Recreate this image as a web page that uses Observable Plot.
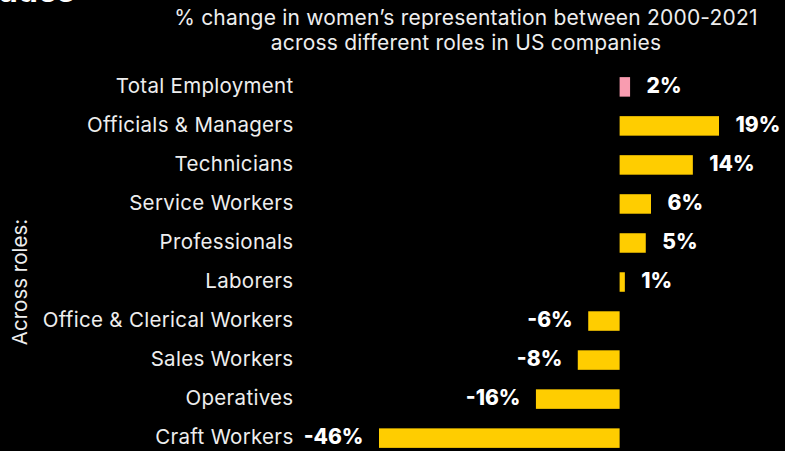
<!DOCTYPE html>
<html>
<head>
<meta charset="utf-8">
<script src="https://cdn.jsdelivr.net/npm/d3@7"></script>
<script src="https://cdn.jsdelivr.net/npm/@observablehq/plot@0.6"></script>
<style>
  html, body { margin: 0; padding: 0; background: #000; }
  body { width: 785px; height: 451px; overflow: hidden; position: relative; font-family: Inter, "Noto Sans", sans-serif; }
  #title { position: absolute; z-index: 2; right: 710px; top: -25px; font-size: 32px; line-height: 32px; font-weight: 700; color: #fff; white-space: nowrap; }
  #subtitle { position: absolute; z-index: 2; left: 166px; width: 600px; top: 5px; text-align: center; font-size: 21px; line-height: 25px; color: #eee; letter-spacing: 0.2px; }
  #chart { position: absolute; z-index: 1; left: 0; top: 0; }
</style>
</head>
<body>
<div id="title">over two decades</div>
<div id="subtitle">% change in women’s representation between 2000-2021<br>across different roles in US companies</div>
<div id="chart"></div>
<script>
const roles = ["Total Employment", "Officials & Managers", "Technicians", "Service Workers", "Professionals", "Laborers", "Office & Clerical Workers", "Sales Workers", "Operatives", "Craft Workers"];
const changes = [2, 19, 14, 6, 5, 1, -6, -8, -16, -46];
const highlight = ["Total Employment"];

const data = roles.map((r, i) => ({role: r, value: changes[i], total: highlight.includes(r)}));
const fmt = d => `${d.value}%`;

const chart = Plot.plot({
  width: 785,
  height: 451,
  marginTop: 74,
  marginBottom: 0,
  marginLeft: 379,
  marginRight: 66,
  style: {background: "#000", color: "#fff", fontFamily: "Inter, 'Noto Sans', sans-serif", overflow: "visible"},
  x: {domain: [-46, 19], axis: null},
  y: {domain: roles, paddingInner: 0.5, paddingOuter: 0.08, round: false, label: null},
  marks: [
    Plot.barX(data, {x: "value", y: "role", fill: d => d.total ? "#F99CB0" : "#FFCD00"}),
    Plot.text(data.filter(d => d.value >= 0), {
      x: "value", y: "role", text: fmt, textAnchor: "start", dx: 16, dy: -1,
      fill: "#fff", fontSize: 21, fontWeight: 800
    }),
    Plot.text(data.filter(d => d.value < 0), {
      x: "value", y: "role", text: fmt, textAnchor: "end", dx: -16, dy: -1,
      fill: "#fff", fontSize: 21, fontWeight: 800
    }),
    Plot.axisY({tickSize: 0, tickPadding: 86, fontSize: 20.5, label: null, color: "#eee", dy: -1}),
    Plot.text(["Across roles:"], {frameAnchor: "left", textAnchor: "middle", rotate: -90, dx: -359, dy: 19, fill: "#eee", fontSize: 20.5})
  ]
});
chart.querySelectorAll("g[aria-label='y-axis tick label'] text").forEach(t => t.setAttribute("letter-spacing", "0.3"));
document.getElementById("chart").appendChild(chart);
</script>
</body>
</html>
